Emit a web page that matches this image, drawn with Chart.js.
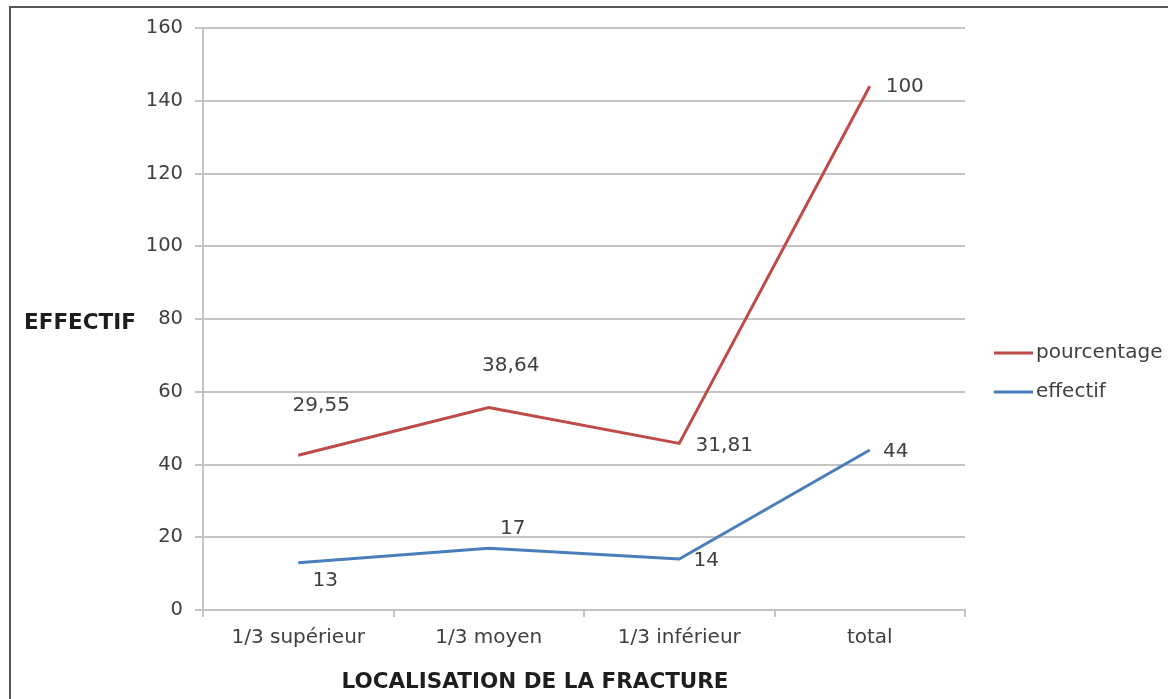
<!DOCTYPE html>
<html>
<head>
<meta charset="utf-8">
<script src="https://cdn.jsdelivr.net/npm/chart.js@4"></script>
<style>
    body { margin: 0; background: #fff; }
    #wrap { position: relative; width: 1168px; height: 699px; }
    #frame { position: absolute; left: 9px; top: 6px; right: -4px; bottom: -4px;
             border-left: 2px solid #555; border-top: 2px solid #555; pointer-events: none; }
</style>
</head>
<body>
<div id="wrap">
    <canvas id="fractureChart" width="1168" height="699"></canvas>
    <div id="frame"></div>
</div>
<script>
    // Categories and series
    const categories = ['1/3 supérieur', '1/3 moyen', '1/3 inférieur', 'total'];
    const effectif = [13, 17, 14, 44];
    const pourcentage = [29.55, 38.64, 31.81, 100];
    const yTicks = [0, 20, 40, 60, 80, 100, 120, 140, 160];

    // label offsets from each point (px)
    const effectifLabelOffsets = [[27, 18], [24, -19], [27, 2], [26, 2]];
    const pourcentageLabelOffsets = [[23, -49], [22, -42], [45, 2], [35, 1]];

    const textColor = '#404040';
    const gridColor = '#c4c4c4';
    const fontFamily = '"DejaVu Sans", Verdana, sans-serif';

    const fmt = v => String(v).replace('.', ',');

    // draws value labels, axis titles and legend
    const extrasPlugin = {
        id: 'extras',
        afterDatasetsDraw(chart) {
            const ctx = chart.ctx;
            ctx.save();
            ctx.font = '20px ' + fontFamily;
            ctx.fillStyle = textColor;
            ctx.textAlign = 'center';
            ctx.textBaseline = 'middle';
            chart.data.datasets.forEach((ds, i) => {
                const meta = chart.getDatasetMeta(i);
                meta.data.forEach((pt, j) => {
                    const off = ds.labelOffsets[j];
                    ctx.fillText(fmt(ds.data[j]), pt.x + off[0], pt.y + off[1]);
                });
            });

            // axis titles, both horizontal
            ctx.font = 'bold 21.5px ' + fontFamily;
            ctx.fillStyle = '#1e1e1e';
            ctx.fillText('EFFECTIF', 80, 323);
            ctx.fillText('LOCALISATION DE LA FRACTURE', 535, 682);

            // legend, last dataset first
            ctx.font = '20px ' + fontFamily;
            ctx.textAlign = 'left';
            const order = chart.data.datasets.slice().reverse();
            order.forEach((ds, k) => {
                const y = 353 + k * 39;
                ctx.strokeStyle = ds.borderColor;
                ctx.lineWidth = 3;
                ctx.beginPath();
                ctx.moveTo(994, y);
                ctx.lineTo(1033, y);
                ctx.stroke();
                ctx.fillStyle = textColor;
                ctx.fillText(ds.label, 1036, y);
            });
            ctx.restore();
        }
    };

    const ctx = document.getElementById('fractureChart').getContext('2d');
    const fractureChart = new Chart(ctx, {
        type: 'line',
        data: {
            labels: categories,
            datasets: [{
                label: 'effectif',
                data: effectif,
                labelOffsets: effectifLabelOffsets,
                borderColor: '#4a7ebb',
                borderWidth: 3,
                pointRadius: 0,
                tension: 0,
                fill: false
            }, {
                label: 'pourcentage',
                data: pourcentage,
                labelOffsets: pourcentageLabelOffsets,
                borderColor: '#be4b48',
                borderWidth: 3,
                pointRadius: 0,
                tension: 0,
                fill: false
            }]
        },
        options: {
            responsive: false,
            animation: false,
            layout: { padding: { top: 28, right: 203, left: 0, bottom: 0 } },
            plugins: {
                legend: { display: false },
                tooltip: { enabled: false }
            },
            scales: {
                x: {
                    offset: true,
                    grid: {
                        offset: true,
                        drawOnChartArea: false,
                        drawTicks: true,
                        tickLength: 7,
                        color: gridColor,
                        lineWidth: 2
                    },
                    border: { color: gridColor, width: 2 },
                    ticks: {
                        color: textColor,
                        padding: 9,
                        maxRotation: 0,
                        font: { family: fontFamily, size: 20 }
                    },
                    afterFit(scale) { scale.height = 89; }
                },
                y: {
                    stacked: true,
                    min: 0,
                    max: 160,
                    afterBuildTicks(scale) { scale.ticks = yTicks.map(v => ({ value: v })); },
                    grid: {
                        color: gridColor,
                        lineWidth: 2,
                        tickLength: 8
                    },
                    border: { color: gridColor, width: 2 },
                    ticks: {
                        color: textColor,
                        padding: 12,
                        font: { family: fontFamily, size: 19.5 }
                    },
                    afterFit(scale) { scale.width = 203; }
                }
            }
        },
        plugins: [extrasPlugin]
    });
</script>
</body>
</html>
